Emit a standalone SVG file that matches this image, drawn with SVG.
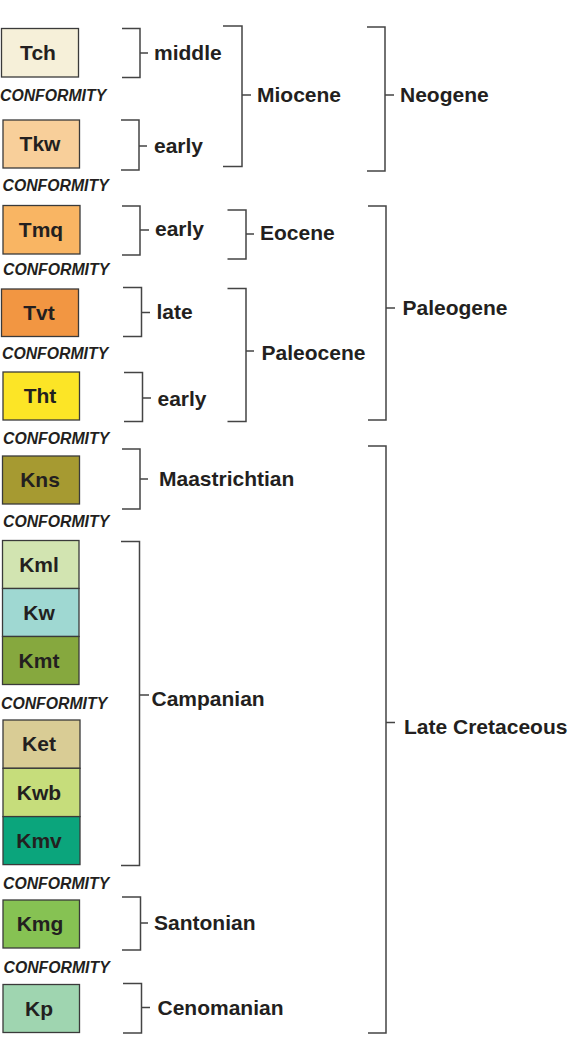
<svg xmlns="http://www.w3.org/2000/svg" width="580" height="1038" viewBox="0 0 580 1038">
<style>
  .box { stroke: #3a3a3a; stroke-width: 1.3; }
  .unit { font-family: "Liberation Sans", Arial, sans-serif; font-weight: bold; font-size: 21px; fill: #231f20; text-anchor: middle; }
  .unc { font-family: "Liberation Sans", Arial, sans-serif; font-weight: bold; font-style: italic; font-size: 15.8px; fill: #231f20; }
  .lbl { font-family: "Liberation Sans", Arial, sans-serif; font-weight: bold; font-size: 21px; fill: #231f20; }
  .br { fill: none; stroke: #444; stroke-width: 1.5; }
</style>
<rect width="580" height="1038" fill="#ffffff"/>

<g id="units">
  <g id="Tch"><rect class="box" x="1.5" y="28.5" width="77" height="48.5" fill="#F6F0D9"/><text class="unit" x="38" y="59.5">Tch</text></g>
  <g id="Tkw"><rect class="box" x="3" y="120" width="76.5" height="48" fill="#F8CF9A"/><text class="unit" x="40" y="151">Tkw</text></g>
  <g id="Tmq"><rect class="box" x="3" y="205.5" width="77" height="48.5" fill="#F9B563"/><text class="unit" x="41" y="236.5">Tmq</text></g>
  <g id="Tvt"><rect class="box" x="1.5" y="289" width="77" height="47.5" fill="#F29642"/><text class="unit" x="39" y="319.5">Tvt</text></g>
  <g id="Tht"><rect class="box" x="3" y="372" width="76.5" height="48" fill="#FCE526"/><text class="unit" x="40" y="403">Tht</text></g>
  <g id="Kns"><rect class="box" x="2.5" y="456" width="77" height="48" fill="#A69A31"/><text class="unit" x="40" y="487">Kns</text></g>
  <g id="Kml"><rect class="box" x="2.5" y="540.5" width="76.5" height="48" fill="#D2E4B1"/><text class="unit" x="39" y="571.5">Kml</text></g>
  <g id="Kw"><rect class="box" x="2.5" y="588.5" width="76.5" height="48" fill="#9FD8D2"/><text class="unit" x="39" y="619.5">Kw</text></g>
  <g id="Kmt"><rect class="box" x="2.5" y="636.5" width="76.5" height="48" fill="#86A83E"/><text class="unit" x="39" y="667.5">Kmt</text></g>
  <g id="Ket"><rect class="box" x="3" y="720" width="77" height="48.3" fill="#D9CC95"/><text class="unit" x="39" y="751">Ket</text></g>
  <g id="Kwb"><rect class="box" x="3" y="768.3" width="77" height="48.3" fill="#C6DD7B"/><text class="unit" x="39" y="799.5">Kwb</text></g>
  <g id="Kmv"><rect class="box" x="3" y="816.6" width="77" height="48" fill="#0BA57C"/><text class="unit" x="39" y="847.7">Kmv</text></g>
  <g id="Kmg"><rect class="box" x="3" y="900" width="76.5" height="48" fill="#86C253"/><text class="unit" x="40" y="931">Kmg</text></g>
  <g id="Kp"><rect class="box" x="3" y="984.5" width="76.5" height="48" fill="#9FD5B0"/><text class="unit" x="39" y="1015.5">Kp</text></g>
</g>

<g id="unconformities">
  <text class="unc" x="0" y="101">CONFORMITY</text>
  <text class="unc" x="2.5" y="190.5">CONFORMITY</text>
  <text class="unc" x="3" y="275">CONFORMITY</text>
  <text class="unc" x="2" y="359">CONFORMITY</text>
  <text class="unc" x="3" y="444">CONFORMITY</text>
  <text class="unc" x="3" y="527">CONFORMITY</text>
  <text class="unc" x="1" y="709">CONFORMITY</text>
  <text class="unc" x="3" y="889">CONFORMITY</text>
  <text class="unc" x="3.5" y="972.5">CONFORMITY</text>
</g>

<g id="connectors">
  <path class="br" d="M122 28.5 H140 V77.5 H122 M140 53 H148"/>
  <path class="br" d="M121 120 H139 V170 H121 M139 146 H147"/>
  <path class="br" d="M223 26 H242 V166.5 H223 M242 95 H251"/>
  <path class="br" d="M367 27 H385 V171 H367 M385 95 H394"/>
  <path class="br" d="M122 206 H140 V255 H122 M140 230 H149"/>
  <path class="br" d="M227.5 210 H246 V259 H227.5 M246 234 H254"/>
  <path class="br" d="M123 287.5 H141.5 V336.5 H123 M141.5 312.5 H150"/>
  <path class="br" d="M227.5 288.5 H246 V421.5 H227.5 M246 351 H254"/>
  <path class="br" d="M124 372.5 H142.5 V421.5 H124 M142.5 398 H151"/>
  <path class="br" d="M368 206 H386 V420 H368 M386 308 H395"/>
  <path class="br" d="M122 449 H140 V509 H122 M140 479 H148"/>
  <path class="br" d="M121 541.5 H139.5 V865.5 H121 M139.5 695 H149"/>
  <path class="br" d="M122 897 H140.5 V950 H122 M140.5 923 H148"/>
  <path class="br" d="M123 983.5 H141.5 V1033 H123 M141.5 1007.5 H150"/>
  <path class="br" d="M368 446 H386 V1033 H368 M386 722.5 H395"/>
</g>

<g id="labels">
  <g id="l-middle"><text class="lbl" x="154" y="60">middle</text></g>
  <g id="l-early1"><text class="lbl" x="154" y="153">early</text></g>
  <g id="l-miocene"><text class="lbl" x="257" y="102">Miocene</text></g>
  <g id="l-neogene"><text class="lbl" x="400" y="102">Neogene</text></g>
  <g id="l-early2"><text class="lbl" x="155" y="236">early</text></g>
  <g id="l-eocene"><text class="lbl" x="260" y="240">Eocene</text></g>
  <g id="l-late"><text class="lbl" x="156.5" y="319">late</text></g>
  <g id="l-paleocene"><text class="lbl" x="261.5" y="360">Paleocene</text></g>
  <g id="l-early3"><text class="lbl" x="157.5" y="406">early</text></g>
  <g id="l-paleogene"><text class="lbl" x="402.5" y="315">Paleogene</text></g>
  <g id="l-maastrichtian"><text class="lbl" x="159" y="486">Maastrichtian</text></g>
  <g id="l-campanian"><text class="lbl" x="151.5" y="706">Campanian</text></g>
  <g id="l-santonian"><text class="lbl" x="154" y="930">Santonian</text></g>
  <g id="l-cenomanian"><text class="lbl" x="157.5" y="1015">Cenomanian</text></g>
  <g id="l-latecretaceous"><text class="lbl" x="404" y="734">Late Cretaceous</text></g>
</g>
</svg>
